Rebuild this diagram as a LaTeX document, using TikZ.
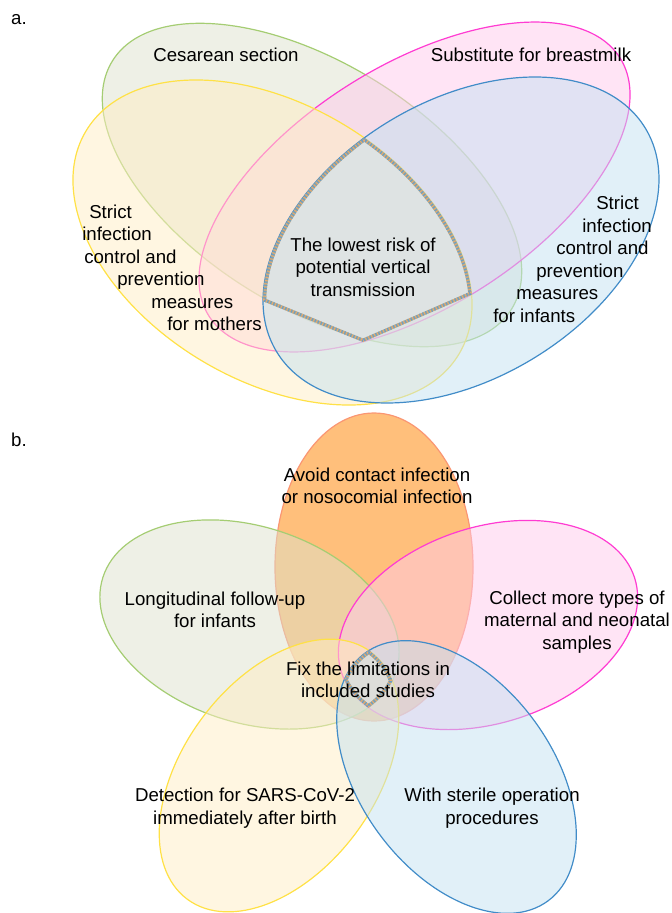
\documentclass[tikz,border=0pt]{standalone}
\usepackage{fontspec}
\setmainfont{Liberation Sans}
\definecolor{grnline}{RGB}{165,205,115}
\definecolor{grnfill}{RGB}{221,225,205}
\definecolor{ylwline}{RGB}{255,225,70}
\definecolor{ylwfill}{RGB}{255,237,195}
\definecolor{pnkline}{RGB}{255,60,210}
\definecolor{pnkfill}{RGB}{255,201,235}
\definecolor{bluline}{RGB}{65,140,200}
\definecolor{blufill}{RGB}{195,225,241}
\definecolor{orgline}{RGB}{250,150,115}
\definecolor{orgfill}{RGB}{255,180,100}
\definecolor{coremix}{RGB}{160,168,152}
\definecolor{coreorg}{RGB}{235,170,110}
\definecolor{coreblu}{RGB}{100,155,205}
% one petal: [options] cx, cy, x radius, y radius, angle
\newcommand{\petal}[6][]{\path[#1,rotate around={#6:(#2,#3)}] (#2,#3) ellipse [x radius=#4, y radius=#5];}

\begin{document}
\begin{tikzpicture}[x=0.75pt,y=-0.75pt,font=\fontsize{14}{16.9}\selectfont,
  petal/.style={fill opacity=0.5, line width=0.9pt},
  core/.style={draw=coremix, line width=4.8pt},
  coredot/.style={draw=coreorg, line width=4.8pt, dash pattern=on 0.6pt off 1.8pt},
  coredotb/.style={draw=coreblu, line width=4.8pt, dash pattern=on 0.5pt off 1.9pt, dash phase=1.2pt}]
\useasboundingbox (0,0) rectangle (671,913);

% a.
\node (lbla) at (19,20) {a.};
\petal[petal, fill=grnfill, draw=grnline]{312}{185}{235}{122}{-31.9}
\petal[petal, fill=pnkfill, draw=pnkline]{414.5}{187}{242.7}{121.4}{32.1}
\petal[petal, fill=ylwfill, draw=ylwline]{272.5}{242.5}{217.3}{137.8}{-30.85}
\petal[petal, fill=blufill, draw=bluline]{461}{240}{215.6}{138.8}{31.2}
\begin{scope}
  \petal[clip]{461}{240}{215.6}{138.8}{31.2}
  \petal[clip]{272.5}{242.5}{217.3}{137.8}{-30.85}
  \clip (150,255) -- (363,342) -- (560,256) -- (560,100) -- (150,100) -- cycle;
  \foreach \s in {core,coredot,coredotb}{
    \petal[\s]{461}{240}{215.6}{138.8}{31.2}
    \petal[\s]{272.5}{242.5}{217.3}{137.8}{-30.85}
    \draw[\s] (150,255) -- (363,342) -- (560,256);
  }
\end{scope}
\node (cesa) at (226,55) {Cesarean section};
\node (subst) at (531,55) {Substitute for breastmilk};
\foreach \x/\y/\t [count=\i] in {89/218.5/Strict, 82/240.5/infection, 84/263.5/control and,
  117/285.5/prevention, 151/308.5/measures, 167/330.5/for mothers}
  \node[anchor=base west, inner sep=0pt] (mom\i) at (\x,\y) {\t};
\foreach \x/\y/\t [count=\i] in {596/209.5/Strict, 582/232.5/infection, 556/254.5/control and,
  536/277.5/prevention, 516/299.5/measures, 493/322.5/for infants}
  \node[anchor=base west, inner sep=0pt] (inf\i) at (\x,\y) {\t};
\node[align=center] (lowest) at (363,267) {The lowest risk of\\potential vertical\\transmission};

% b.
\node (lblb) at (19,440) {b.};
\path[fill=orgfill, fill opacity=0.85, draw=orgline, line width=0.9pt] (374,567) ellipse [x radius=99, y radius=154];
\petal[petal, fill=grnfill, draw=grnline]{249.5}{624.5}{154}{98}{-17.9}
\petal[petal, fill=pnkfill, draw=pnkline]{488}{625}{154}{98}{17.9}
\petal[petal, fill=ylwfill, draw=ylwline]{279}{775.5}{154}{96}{53.5}
\petal[petal, fill=blufill, draw=bluline]{456.5}{777}{154}{96}{-53.5}
\begin{scope}
  \clip (374,567) ellipse [x radius=99, y radius=154];
  \petal[clip]{249.5}{624.5}{154}{98}{-17.9}
  \petal[clip]{488}{625}{154}{98}{17.9}
  \petal[clip]{279}{775.5}{154}{96}{53.5}
  \petal[clip]{456.5}{777}{154}{96}{-53.5}
  \foreach \s in {core,coredot,coredotb}{
    \draw[\s] (374,567) ellipse [x radius=99, y radius=154];
    \petal[\s]{249.5}{624.5}{154}{98}{-17.9}
    \petal[\s]{488}{625}{154}{98}{17.9}
    \petal[\s]{279}{775.5}{154}{96}{53.5}
    \petal[\s]{456.5}{777}{154}{96}{-53.5}
  }
\end{scope}
\node[align=center] (avoid) at (377,486) {Avoid contact infection\\or nosocomial infection};
\node[align=center] (follow) at (215,610) {Longitudinal follow-up\\for infants};
\node[align=center] (collect) at (577,622) {Collect more types of\\maternal and neonatal\\samples};
\node[align=center] (fix) at (368,680) {Fix the limitations in\\included studies};
\node[align=center] (detect) at (245,808) {Detection for SARS-CoV-2\\immediately after birth};
\node[align=center] (sterile) at (492,808) {With sterile operation\\procedures};
\end{tikzpicture}
\end{document}
